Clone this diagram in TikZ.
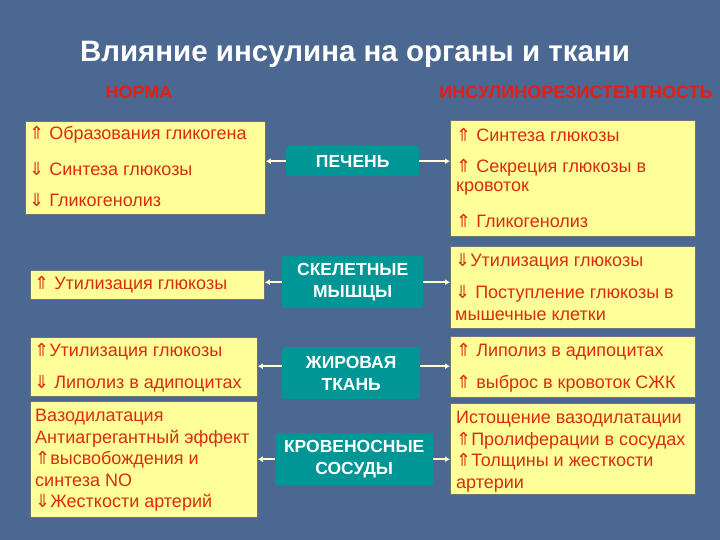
\documentclass[tikz,border=0pt]{standalone}
\usepackage{fontspec}
\usetikzlibrary{arrows.meta}
\setmainfont{Liberation Sans}
\newfontfamily\symf{DejaVu Sans}
\newcommand\upa{{\symf ⇑}}
\newcommand\dna{{\symf ⇓}}
\definecolor{bg}{RGB}{74,104,146}
\definecolor{teal2}{RGB}{0,150,150}
\definecolor{ylw}{RGB}{255,255,153}
\definecolor{rtxt}{RGB}{218,44,14}
\definecolor{hdr}{RGB}{232,28,18}
\definecolor{arrc}{RGB}{255,255,210}
\begin{document}
\begin{tikzpicture}[x=1pt,y=-1pt,
  ybox/.style={draw=black!55,line width=0.8pt,fill=ylw,inner sep=0pt,anchor=north west},
  cbox/.style={fill=teal2,rounded corners=2pt,inner sep=0pt,anchor=north west,text=white,font=\bfseries\fontsize{17.5}{21.5}\selectfont,align=center},
  txt/.style={anchor=west,inner sep=0pt,text=rtxt,font=\fontsize{18}{21.5}\selectfont,align=left},
  conn/.style={draw=arrc,line width=2pt,-{Latex[length=5pt,width=6pt]}},
  hd/.style={inner sep=0pt,text=hdr,font=\bfseries\fontsize{18}{20}\selectfont}]
\useasboundingbox (0,0) rectangle (720,540);
\fill[bg] (0,0) rectangle (720,540);
\node[inner sep=0pt,text=white,font=\bfseries\fontsize{29.5}{34}\selectfont] (title) at (355,54) {Влияние инсулина на органы и ткани};
\node[hd] (norma) at (139,92) {НОРМА};
\node[hd] (ir) at (576,92) {ИНСУЛИНОРЕЗИСТЕНТНОСТЬ};
% left boxes
\node[ybox,minimum width=240,minimum height=93] (l1) at (25,121) {};
\node[ybox,minimum width=234,minimum height=29] (l2) at (30,270) {};
\node[ybox,minimum width=227,minimum height=59] (l3) at (30,337) {};
\node[ybox,minimum width=227,minimum height=116] (l4) at (30,401) {};
% right boxes
\node[ybox,minimum width=245,minimum height=116] (r1) at (450,120) {};
\node[ybox,minimum width=245,minimum height=82] (r2) at (450,246) {};
\node[ybox,minimum width=245,minimum height=61] (r3) at (450,336) {};
\node[ybox,minimum width=245,minimum height=91] (r4) at (450,403) {};
% center boxes
\node[cbox,minimum width=133,minimum height=30] (c1) at (286,146) {ПЕЧЕНЬ};
\node[cbox,minimum width=141,minimum height=52] (c2) at (282,256) {СКЕЛЕТНЫЕ\\МЫШЦЫ};
\node[cbox,minimum width=138,minimum height=52] (c3) at (282,347) {ЖИРОВАЯ\\ТКАНЬ};
\node[cbox,minimum width=158,minimum height=52] (c4) at (275,433) {КРОВЕНОСНЫЕ\\СОСУДЫ};
% connectors
\draw[conn] (c1.west) -- (c1.west -| l1.east);
\draw[conn] (c1.east) -- (c1.east -| r1.west);
\draw[conn] (c2.west) -- (c2.west -| l2.east);
\draw[conn] (c2.east) -- (c2.east -| r2.west);
\coordinate (c3l) at ([yshift=7pt]c3.west);
\coordinate (c3r) at ([yshift=7pt]c3.east);
\draw[conn] (c3l) -- (c3l -| l3.east);
\draw[conn] (c3r) -- (c3r -| r3.west);
\draw[conn] (c4.west) -- (c4.west -| l4.east);
\draw[conn] (c4.east) -- (c4.east -| r4.west);
% left texts
\node[txt] (t11) at (29,135) {\upa\ Образования гликогена};
\node[txt] (t12) at (29,169) {\dna\ Синтеза глюкозы};
\node[txt] (t13) at (29,200) {\dna\ Гликогенолиз};
\node[txt] (t21) at (34,285) {\upa\ Утилизация глюкозы};
\node[txt] (t31) at (34,352) {\upa Утилизация глюкозы};
\node[txt] (t32) at (34,384) {\dna\ Липолиз в адипоцитах};
\node[txt,anchor=north west] (t41) at (35,409) {Вазодилатация\\Антиагрегантный эффект\\\upa высвобождения и\\синтеза NO\\\dna Жесткости артерий};
% right texts
\node[txt] (s11) at (456,135) {\upa\ Синтеза глюкозы};
\node[txt] (s12) at (456,168) {\upa\ Секреция глюкозы в};
\node[txt] (s13) at (456,189) {кровоток};
\node[txt] (s14) at (456,221) {\upa\ Гликогенолиз};
\node[txt] (s21) at (455,262) {\dna Утилизация глюкозы};
\node[txt] (s22) at (455,294) {\dna\ Поступление глюкозы в};
\node[txt] (s23) at (455,316) {мышечные клетки};
\node[txt] (s31) at (456,352) {\upa\ Липолиз в адипоцитах};
\node[txt] (s32) at (456,384) {\upa\ выброс в кровоток СЖК};
\node[txt,anchor=north west] (s41) at (456,411) {Истощение вазодилатации\\\upa Пролиферации в сосудах\\\upa Толщины и жесткости\\артерии};
\end{tikzpicture}
\end{document}
